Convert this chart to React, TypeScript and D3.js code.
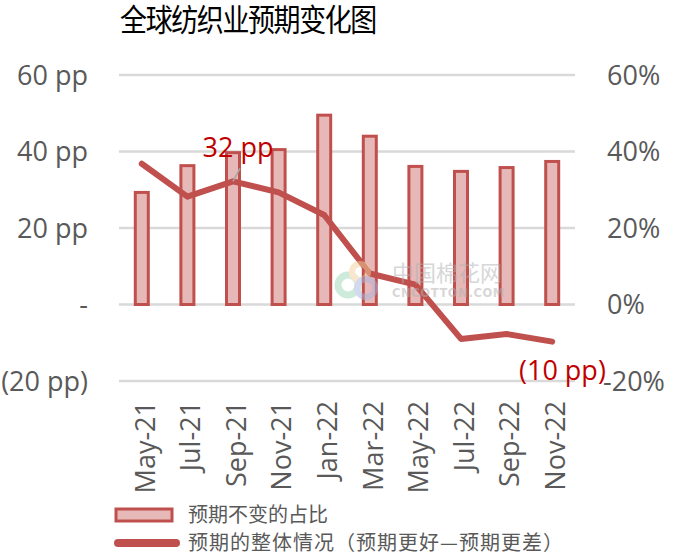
import React from "react";
import * as d3 from "d3";

const categories = ["May-21", "Jul-21", "Sep-21", "Nov-21", "Jan-22", "Mar-22", "May-22", "Jul-22", "Sep-22", "Nov-22"];
const unchangedShare = [29.3, 36.3, 39.7, 40.5, 49.5, 44.0, 36.1, 34.8, 35.8, 37.4];
const overallBalance = [36.8, 28.2, 32.2, 29.3, 23.4, 8.1, 5.2, -9.0, -7.7, -9.7];
const leftTicks = [60, 40, 20, 0, -20];
const rightTicks = [60, 40, 20, 0, -20];
const title = "全球纺织业预期变化图";
const legendBar = "预期不变的占比";
const legendLine = "预期的整体情况（预期更好—预期更差）";

const RED = "#c0504d";
const PINK = "#e6b9b8";
const GRAY = "#595959";
const LATIN = "'Open Sans', 'Noto Sans', sans-serif";
const CJK = "'Noto Sans CJK SC', sans-serif";

const fmtLeft = (v: number) => (v === 0 ? "-" : v < 0 ? `(${Math.abs(v)} pp)` : `${v} pp`);
const fmtRight = (v: number) => `${v}%`;

export default function App() {
  const W = 680, H = 560;
  const x0 = 119, x1 = 575;
  const x = d3.scaleBand<string>().domain(categories).range([x0, x1]).paddingInner(0).paddingOuter(0);
  const yL = d3.scaleLinear().domain([-20, 60]).range([381, 75]);
  const yR = d3.scaleLinear().domain([-20, 60]).range([381, 75]);
  const cx = (c: string) => (x(c) as number) + x.bandwidth() / 2;
  const barW = 13;

  const line = d3
    .line<number>()
    .x((_, i) => cx(categories[i]))
    .y((d) => yL(d));

  const iLab1 = 2;
  const iLab2 = 9;

  return (
    <svg width={W} height={H} style={{ position: "absolute", left: 0, top: 0, background: "#fff" }}>
      <rect width={W} height={H} fill="#fff" />
      {/* title */}
      <g transform="translate(248,31) scale(1,1.12)">
        <text x={0} y={0} textAnchor="middle" fontFamily={CJK} fontSize={27} fontWeight={400} letterSpacing={-1.4} fill="#000">
          {title}
        </text>
      </g>

      {/* gridlines */}
      {leftTicks.map((t) => (
        <line key={t} x1={x0} x2={x1} y1={yL(t)} y2={yL(t)} stroke="#d9d9d9" strokeWidth={2.5} />
      ))}

      {/* left axis labels */}
      {leftTicks.map((t) => (
        <text key={t} x={88} y={yL(t)} dy="0.36em" textAnchor="end" fontFamily={LATIN} fontSize={27} fill={GRAY}>
          {fmtLeft(t)}
        </text>
      ))}
      {/* right axis labels */}
      {rightTicks.map((t) => (
        <text key={t} x={t < 0 ? 603 : 607} y={yR(t)} dy="0.36em" textAnchor="start" fontFamily={LATIN} fontSize={27} fill={GRAY}>
          {fmtRight(t)}
        </text>
      ))}

      {/* bars */}
      {categories.map((c, i) => (
        <rect
          key={c}
          x={cx(c) - barW / 2}
          y={yR(unchangedShare[i])}
          width={barW}
          height={yR(0) - yR(unchangedShare[i])}
          fill={PINK}
          stroke={RED}
          strokeWidth={3}
        />
      ))}

      {/* line */}
      <path d={line(overallBalance) || ""} fill="none" stroke={RED} strokeWidth={6} strokeLinejoin="round" strokeLinecap="round" />

      {/* watermark (overlay) */}
      <g opacity={0.5}>
        <circle cx={348} cy={285} r={10} fill="none" stroke="#9fd6b8" strokeWidth={7} />
        <circle cx={360} cy={272} r={8} fill="none" stroke="#f3d19c" strokeWidth={6} />
        <circle cx={366} cy={288} r={9} fill="none" stroke="#a9b4e0" strokeWidth={6} />
        <text x={392} y={281} fontFamily={CJK} fontSize={22} fill="#b0b0b0">中国棉花网</text>
        <text x={392} y={297} fontFamily="'DejaVu Sans', sans-serif" fontWeight={700} fontSize={11.5} letterSpacing={0.6} fill="#b0b0b0">CNCOTTON.COM</text>
      </g>

      {/* data labels */}
      <line x1={cx(categories[iLab1])} y1={yL(overallBalance[iLab1])} x2={cx(categories[iLab1]) + 7} y2={yL(overallBalance[iLab1]) - 13} stroke="#a6a6a6" strokeWidth={1.5} />
      <text x={cx(categories[iLab1]) + 5} y={157} textAnchor="middle" fontFamily={LATIN} fontSize={27} fill="#c00000">
        {`${Math.round(overallBalance[iLab1])} pp`}
      </text>
      <text x={519} y={380} textAnchor="start" fontFamily={LATIN} fontSize={27} fill="#c00000">
        {`(${Math.round(Math.abs(overallBalance[iLab2]))} pp)`}
      </text>

      {/* x labels */}
      {categories.map((c) => (
        <text
          key={c}
          transform={`translate(${cx(c) + 3},${401}) rotate(-90)`}
          dy="0.36em"
          textAnchor="end"
          fontFamily={LATIN}
          fontSize={27}
          fill={GRAY}
        >
          {c}
        </text>
      ))}

      {/* legend */}
      <rect x={116} y={509} width={56} height={12} fill={PINK} stroke={RED} strokeWidth={3} />
      <text x={188} y={515} dy="0.35em" fontFamily={CJK} fontSize={20} fill={GRAY}>{legendBar}</text>
      <line x1={118} x2={176} y1={543} y2={543} stroke={RED} strokeWidth={8} strokeLinecap="round" />
      <text x={188} y={543} dy="0.35em" fontFamily={CJK} fontSize={20} letterSpacing={1} fill={GRAY}>{legendLine}</text>
    </svg>
  );
}
